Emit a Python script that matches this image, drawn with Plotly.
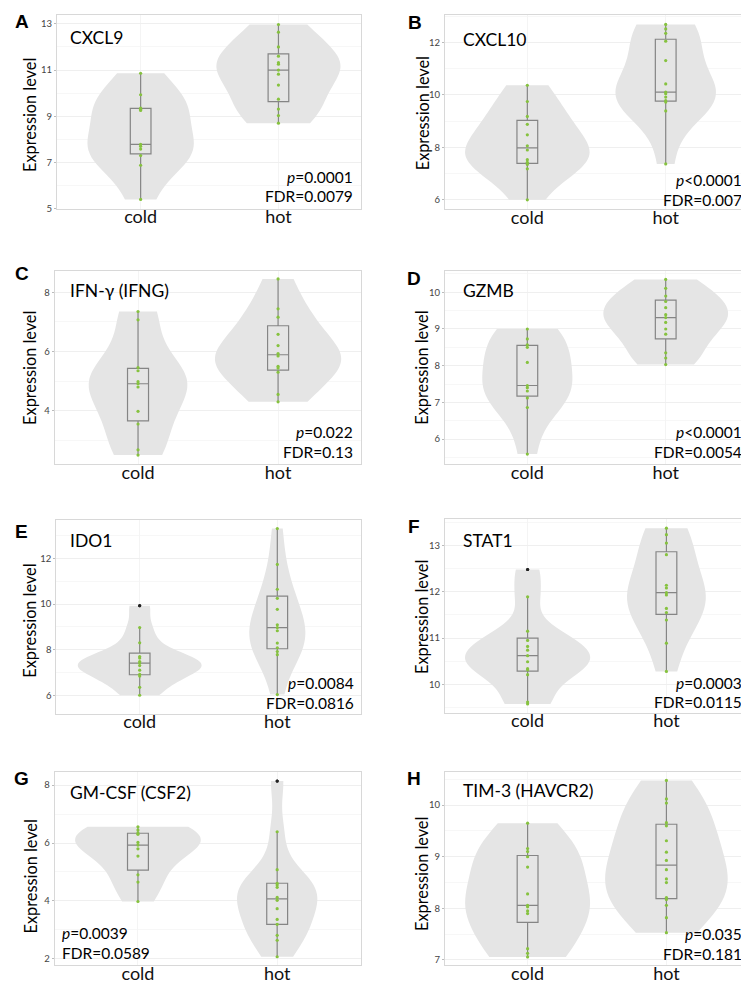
import numpy as np
import plotly.graph_objects as go

W, H = 749, 992

# ---------------- data ----------------
groups = ["cold", "hot"]
genes = ["CXCL9", "CXCL10", "IFN-γ (IFNG)", "GZMB", "IDO1", "STAT1", "GM-CSF (CSF2)", "TIM-3 (HAVCR2)"]
letters = ["A", "B", "C", "D", "E", "F", "G", "H"]
p_values = ["=0.0001", "<0.0001", "=0.022", "<0.0001", "=0.0084", "=0.0003", "=0.0039", "=0.035"]
fdr_values = ["0.0079", "0.007", "0.13", "0.0054", "0.0816", "0.0115", "0.0589", "0.181"]

cxcl9_cold = [5.40, 6.88, 7.30, 7.58, 7.70, 7.78, 9.25, 9.30, 9.35, 9.93, 10.86]
cxcl9_hot = [8.70, 9.03, 9.31, 9.74, 10.35, 10.82, 11.00, 11.25, 11.32, 11.60, 12.00, 12.64, 12.97]
cxcl10_cold = [6.00, 7.18, 7.35, 7.43, 7.53, 7.90, 8.06, 8.48, 8.88, 9.18, 9.75, 10.37]
cxcl10_hot = [7.37, 9.39, 9.73, 9.78, 9.92, 10.05, 10.11, 10.42, 11.31, 12.05, 12.35, 12.52, 12.69]
ifng_cold = [2.50, 2.68, 3.55, 3.98, 4.80, 4.91, 4.98, 5.35, 5.46, 7.07, 7.35]
ifng_hot = [4.30, 4.55, 5.30, 5.44, 5.50, 5.85, 5.93, 6.20, 6.58, 7.16, 7.44, 8.45]
gzmb_cold = [5.59, 6.86, 7.12, 7.31, 7.40, 7.46, 8.09, 8.50, 8.57, 8.73, 9.00]
gzmb_hot = [8.03, 8.21, 8.35, 8.86, 9.00, 9.18, 9.31, 9.39, 9.58, 9.75, 9.90, 10.11, 10.35]
ido1_cold = [6.00, 6.35, 6.84, 6.92, 7.10, 7.30, 7.41, 7.48, 7.63, 7.70, 8.30, 8.97, 9.93]
ido1_hot = [6.03, 7.78, 7.92, 8.08, 8.29, 8.83, 8.97, 9.09, 9.77, 10.25, 10.65, 11.74, 13.31]
stat1_cold = [9.58, 9.62, 10.21, 10.315, 10.34, 10.49, 10.62, 10.74, 10.82, 10.95, 11.15, 11.89, 12.48]
stat1_hot = [10.28, 10.89, 11.39, 11.55, 11.64, 11.93, 11.98, 12.08, 12.14, 12.80, 13.05, 13.23, 13.37]
csf2_cold = [3.98, 4.65, 4.90, 5.55, 5.80, 5.93, 6.02, 6.30, 6.35, 6.45, 6.56]
csf2_hot = [2.07, 2.64, 2.81, 3.19, 3.36, 3.73, 4.02, 4.12, 4.47, 4.55, 4.61, 5.08, 6.39, 8.14]
havcr2_cold = [7.06, 7.13, 7.22, 7.90, 7.95, 8.03, 8.06, 8.28, 8.80, 9.00, 9.10, 9.16, 9.65]
havcr2_hot = [7.53, 7.82, 8.06, 8.17, 8.21, 8.50, 8.57, 8.75, 8.93, 9.09, 9.31, 9.60, 9.66, 10.04, 10.12, 10.48]

panel_data = [
    (cxcl9_cold, cxcl9_hot), (cxcl10_cold, cxcl10_hot),
    (ifng_cold, ifng_hot), (gzmb_cold, gzmb_hot),
    (ido1_cold, ido1_hot), (stat1_cold, stat1_hot),
    (csf2_cold, csf2_hot), (havcr2_cold, havcr2_hot),
]

# ---------------- layout geometry (pixels) ----------------
# left, right, top, bottom of each plotting panel
boxes = [
    (49.0, 352.7, 7.3, 201.7), (437.0, 741.7, 7.3, 202.0),
    (46.7, 352.7, 264.0, 458.3), (437.0, 741.7, 264.0, 458.3),
    (48.3, 352.7, 515.0, 709.3), (437.0, 741.7, 514.0, 708.3),
    (46.7, 352.7, 768.0, 962.0), (437.0, 741.7, 768.0, 962.0),
]
x_ranges = [(-0.607, 1.597), (-0.595, 1.607), (-0.595, 1.59), (-0.595, 1.607),
            (-0.606, 1.606), (-0.595, 1.60), (-0.598, 1.60), (-0.595, 1.60)]
y_ranges = [(5.0, 13.37), (5.65, 13.04), (2.2, 8.73), (5.32, 10.59),
            (5.19, 13.67), (9.39, 13.56), (1.78, 8.45), (6.9, 10.64)]
y_dticks = [2, 2, 2, 1, 2, 1, 2, 1]
y_tick0 = [1, 0, 0, 0, 0, 0, 0, 0]
letter_pos = [(14, 14), (407, 15), (14, 266.7), (406, 272), (14, 525.7), (406, 521.3), (14, 774.5), (406, 774)]
gene_pos = [(60, 30), (453.3, 32), (60, 283.7), (453.3, 283.7), (60, 534.7), (453.3, 535), (60, 788.7), (453.3, 786.7)]
ytitle_pos = [(22, 107.5), (414, 105.8), (22, 361.7), (414, 361.5), (22, 615.8), (414, 612), (22, 872.8), (414, 870.3)]
stat_pos = [  # x, y of p line, y of FDR line, anchor
    (346.7, 170.0, 189.3, "right"), (736.0, 172.7, 192.7, "right"),
    (346.7, 426.0, 446.7, "right"), (736.0, 426.0, 446.7, "right"),
    (348.3, 678.3, 698.3, "right"), (736.0, 678.3, 697.5, "right"),
    (52.0, 930.0, 950.0, "left"), (736.0, 930.3, 950.3, "right"),
]

VIOLIN_FILL = "#E5E5E5"
POINT_GREEN = "#86C23F"
BOX_LINE = "#858585"
FONT = "Lato"


def px2x(px):
    return px / W


def px2y(py):
    return 1 - py / H


def plotly_quantile(vals, p):
    a = sorted(vals)
    n = len(a)
    pos = p * n - 0.5
    if pos < 0:
        return a[0]
    if pos > n - 1:
        return a[-1]
    lo = int(np.floor(pos))
    hi = int(np.ceil(pos))
    frac = pos - lo
    return a[lo] * (1 - frac) + a[hi] * frac


fig = go.Figure()
annotations = []
layout_axes = {}

for i, (cold, hot) in enumerate(panel_data):
    k = i + 1
    xa = "x" if k == 1 else f"x{k}"
    ya = "y" if k == 1 else f"y{k}"
    left, right, top, bottom = boxes[i]

    for g, vals in zip(groups, (cold, hot)):
        xs = [g] * len(vals)
        fig.add_trace(go.Violin(
            x=xs, y=vals, xaxis=xa, yaxis=ya,
            spanmode="hard", scalegroup="panel" + letters[i], scalemode="width",
            fillcolor=VIOLIN_FILL,
            line=dict(color=VIOLIN_FILL, width=0), points=False,
            box_visible=False, meanline_visible=False,
            hoverinfo="skip", showlegend=False, opacity=1,
        ))
    for g, vals in zip(groups, (cold, hot)):
        xs = [g] * len(vals)
        fig.add_trace(go.Box(
            x=xs, y=vals, xaxis=xa, yaxis=ya,
            width=0.15, fillcolor="rgba(0,0,0,0)",
            line=dict(color=BOX_LINE, width=1.2), whiskerwidth=0,
            boxpoints="outliers", pointpos=0, jitter=0,
            marker=dict(color="black", size=3),
            hoverinfo="skip", showlegend=False,
        ))
    for g, vals in zip(groups, (cold, hot)):
        q1 = plotly_quantile(vals, 0.25)
        q3 = plotly_quantile(vals, 0.75)
        iqr = q3 - q1
        cols = ["#222222" if (v < q1 - 1.5 * iqr or v > q3 + 1.5 * iqr) else POINT_GREEN for v in vals]
        fig.add_trace(go.Scatter(
            x=[g] * len(vals), y=vals, xaxis=xa, yaxis=ya, mode="markers",
            marker=dict(color=cols, size=3.2, line=dict(width=0)),
            hoverinfo="skip", showlegend=False,
        ))

    layout_axes["xaxis" if k == 1 else f"xaxis{k}"] = dict(
        domain=[px2x(left), px2x(right)], anchor=ya, type="category",
        categoryorder="array", categoryarray=groups,
        range=list(x_ranges[i]), showgrid=True, gridcolor="#F4F4F4", gridwidth=1,
        showline=True, mirror=True, linecolor="#D8D8D8", linewidth=1,
        ticks="", ticklabelstandoff=-8,
        tickfont=dict(family=FONT, size=18, color="#111111"),
        zeroline=False, fixedrange=True,
    )
    layout_axes["yaxis" if k == 1 else f"yaxis{k}"] = dict(
        domain=[px2y(bottom), px2y(top)], anchor=xa,
        range=list(y_ranges[i]), dtick=y_dticks[i], tick0=y_tick0[i],
        showgrid=True, gridcolor="#EFEFEF", gridwidth=1,
        minor=dict(dtick=y_dticks[i] / 2, showgrid=True, gridcolor="#F7F7F7", gridwidth=1),
        showline=True, mirror=True, linecolor="#D8D8D8", linewidth=1,
        ticks="outside", ticklen=2, tickcolor="#BBBBBB",
        tickfont=dict(family=FONT, size=9.5, color="#444444"),
        zeroline=False, fixedrange=True,
    )

    lx, ly = letter_pos[i]
    annotations.append(dict(
        text=f"<b>{letters[i]}</b>", x=px2x(lx), y=px2y(ly), xref="paper", yref="paper",
        xanchor="center", yanchor="middle", showarrow=False,
        font=dict(family="Liberation Sans", size=19, color="black"),
    ))
    gx, gy = gene_pos[i]
    annotations.append(dict(
        text=genes[i], x=px2x(gx), y=px2y(gy), xref="paper", yref="paper",
        xanchor="left", yanchor="middle", showarrow=False,
        font=dict(family=FONT, size=17.5, color="black"),
    ))
    tx, ty = ytitle_pos[i]
    annotations.append(dict(
        text="Expression level", x=px2x(tx), y=px2y(ty), xref="paper", yref="paper",
        xanchor="center", yanchor="middle", textangle=-90, showarrow=False,
        font=dict(family=FONT, size=16.3, color="black"),
    ))
    sx, sy1, sy2, anch = stat_pos[i]
    annotations.append(dict(
        text=f"<i>p</i>{p_values[i]}", x=px2x(sx), y=px2y(sy1), xref="paper", yref="paper",
        xanchor=anch, yanchor="middle", showarrow=False,
        font=dict(family=FONT, size=15.5, color="black"),
    ))
    annotations.append(dict(
        text=f"FDR={fdr_values[i]}", x=px2x(sx), y=px2y(sy2), xref="paper", yref="paper",
        xanchor=anch, yanchor="middle", showarrow=False,
        font=dict(family=FONT, size=15.5, color="black"),
    ))

fig.update_layout(
    width=W, height=H, margin=dict(l=0, r=0, t=0, b=0, pad=0),
    paper_bgcolor="white", plot_bgcolor="white",
    violinmode="overlay", boxmode="overlay", violingap=0.1, violingroupgap=0,
    annotations=annotations, showlegend=False,
    **layout_axes,
)

fig.write_html("out.html")
